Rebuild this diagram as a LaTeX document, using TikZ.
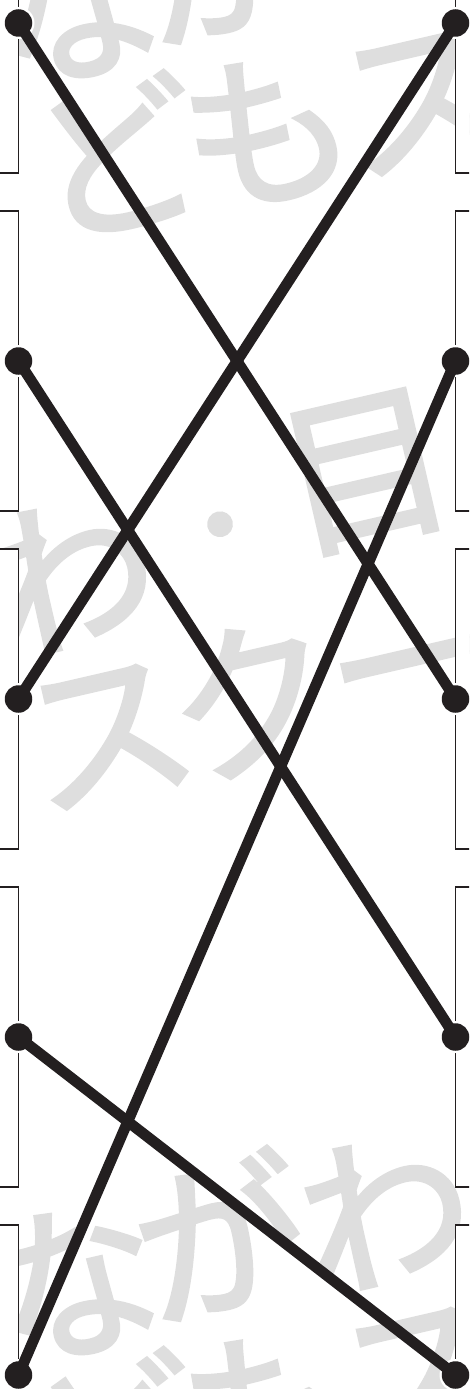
\documentclass[tikz,border=0pt]{standalone}
\usepackage{fontspec}
\newfontfamily\jpfont[FakeBold=2.2]{Noto Sans CJK JP}
\definecolor{ink}{HTML}{231F20}
\definecolor{wm}{HTML}{DEDEDE}
\begin{document}
\begin{tikzpicture}[x=1pt,y=-1pt,
  wmark/.style={text=wm, font=\jpfont\fontsize{170}{170}\selectfont, rotate=13,
    inner sep=0pt, text height=150pt, text depth=20pt, anchor=center},
  wdot/.style={wmark, font=\jpfont\fontsize{110}{110}\selectfont, text height=97pt, text depth=13pt},
  cardbox/.style={fill=white, draw=ink, line width=1.8pt},
  pinhalo/.style={circle, fill=white, minimum size=32pt, inner sep=0pt},
  pindot/.style={circle, fill=ink, minimum size=27.5pt, inner sep=0pt},
  wire/.style={draw=ink, line width=10.8pt}]
\useasboundingbox (0,0) rectangle (469,1389);
\begin{scope}
\clip (0,0) rectangle (469,1389);
% watermark
\node[wmark] (w1) at (74,4) {な};
\node[wmark] (w2) at (220,-39) {が};
\node[wmark] (w3) at (116,157) {ど};
\node[wmark] (w4) at (266,129) {も};
\node[wmark] (w5) at (422,95) {ス};
\node[wmark] (w6) at (70,574) {わ};
\node[wdot] (w7) at (220,524) {・};
\node[wmark] (w8) at (364,467) {目};
\node[wmark] (w9) at (107,729) {ス};
\node[wmark] (w10) at (252,699) {ク};
\node[wmark] (w11) at (410,658) {ー};
\node[wmark] (w12) at (74,1281) {な};
\node[wmark] (w13) at (220,1238) {が};
\node[wmark] (w14) at (385,1210) {わ};
\node[wmark] (w15) at (116,1434) {ど};
\node[wmark] (w16) at (266,1406) {も};
\node[wmark] (w17) at (422,1372) {ス};
% cards
\foreach \c in {23,361,699,1037,1375}{
  \draw[cardbox] (-20,\c-150) rectangle (18.5,\c+150);
  \draw[cardbox] (455.5,\c-150) rectangle (490,\c+150);
}
\end{scope}
% pins
\foreach \i/\c in {1/23,2/361,3/699,4/1037,5/1375}{
  \node[pinhalo] (L\i) at (18.5,\c) {};
  \node[pinhalo] (R\i) at (455.5,\c) {};
}
\draw[wire] (L1.center) -- (R3.center);
\draw[wire] (R1.center) -- (L3.center);
\draw[wire] (L2.center) -- (R4.center);
\draw[wire] (R2.center) -- (L5.center);
\draw[wire] (L4.center) -- (R5.center);
\foreach \i in {1,...,5}{
  \node[pindot] at (L\i) {};
  \node[pindot] at (R\i) {};
}
\end{tikzpicture}
\end{document}
